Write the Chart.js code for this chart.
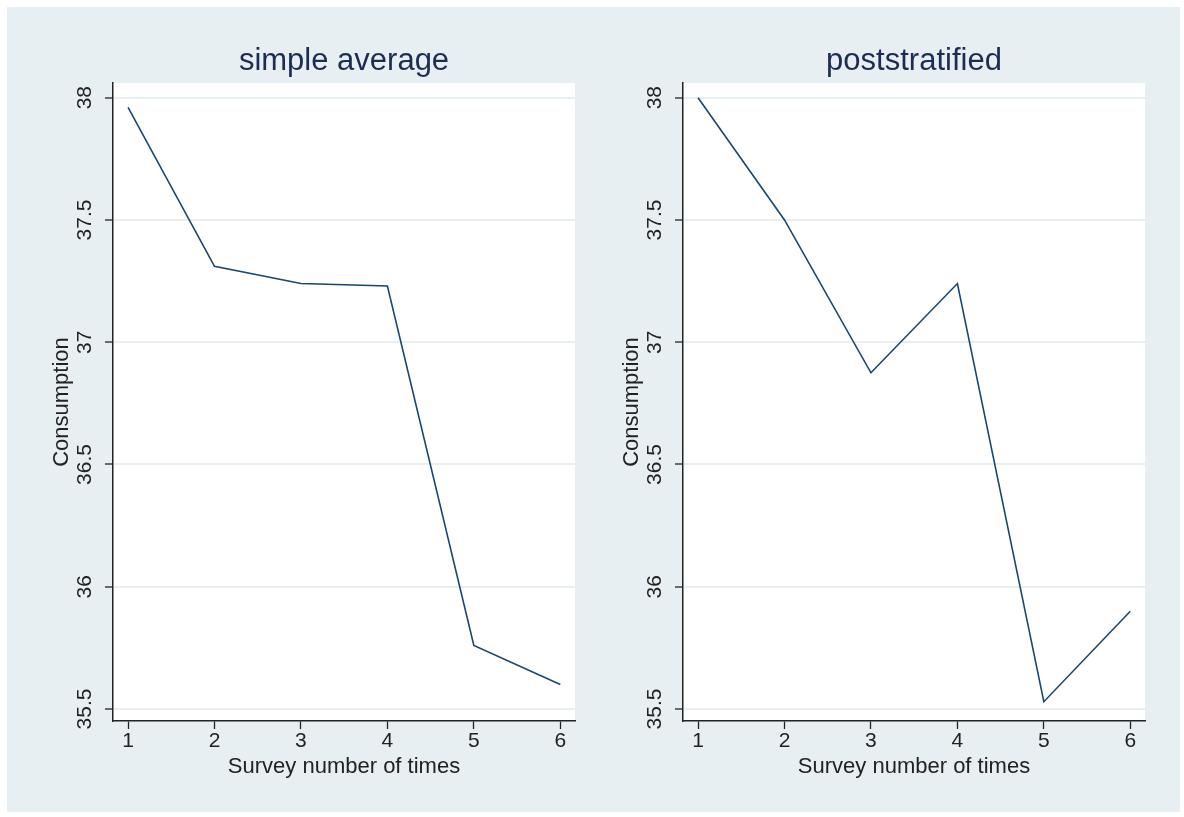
<!DOCTYPE html>
<html>
<head>
<meta charset="utf-8">
<script src="https://cdn.jsdelivr.net/npm/chart.js@4.4.1/dist/chart.umd.min.js"></script>
<style>
  body { margin: 0; background: #fff; width: 1184px; height: 817px; position: relative; overflow: hidden; }
  #bg { position: absolute; left: 7px; top: 7px; width: 1173px; height: 805px; background: #e8eff2; }
  canvas { position: absolute; top: 7px; }
  #leftChart { left: 7px; }
  #rightChart { left: 577px; }
</style>
</head>
<body>
<div id="bg"></div>
<canvas id="leftChart" width="585" height="805"></canvas>
<canvas id="rightChart" width="585" height="805"></canvas>
<script>
// ===== data =====
const surveys = [1, 2, 3, 4, 5, 6];
const simpleAverage = [37.96, 37.31, 37.24, 37.23, 35.76, 35.60];
const poststratified = [38.00, 37.50, 36.875, 37.24, 35.53, 35.90];
const yTicks = [35.5, 36, 36.5, 37, 37.5, 38];
const yTickLabels = ['35.5', '36', '36.5', '37', '37.5', '38'];
const xTicks = [1, 2, 3, 4, 5, 6];

const FONT = "'Liberation Sans', Arial, sans-serif";
const LINE_COLOR = '#1a476f';
const AXIS_COLOR = '#222';
const GRID_COLOR = '#e8eff2';

// white plot region
const plotBg = {
    id: 'plotBg',
    beforeDraw(chart) {
        const { ctx, chartArea: a } = chart;
        ctx.save();
        ctx.fillStyle = '#fff';
        ctx.fillRect(a.left, a.top, a.right - a.left, a.bottom - a.top);
        ctx.restore();
    }
};

// rotated y tick labels (Stata style)
const rotatedYLabels = {
    id: 'rotatedYLabels',
    afterDraw(chart) {
        const { ctx } = chart;
        const scale = chart.scales.y;
        ctx.save();
        ctx.fillStyle = AXIS_COLOR;
        ctx.font = '21px ' + FONT;
        ctx.textAlign = 'center';
        ctx.textBaseline = 'middle';
        yTicks.forEach((v, i) => {
            const y = scale.getPixelForValue(v);
            ctx.save();
            ctx.translate(scale.right - 28, y);
            ctx.rotate(-Math.PI / 2);
            ctx.fillText(yTickLabels[i], 0, 0);
            ctx.restore();
        });
        ctx.restore();
    }
};

function makeChart(id, title, values) {
    return new Chart(document.getElementById(id), {
        type: 'line',
        data: {
            datasets: [{
                data: surveys.map((x, i) => ({ x: x, y: values[i] })),
                borderColor: LINE_COLOR,
                borderWidth: 1.6,
                pointRadius: 0,
                tension: 0,
                fill: false
            }]
        },
        options: {
            responsive: false,
            animation: false,
            devicePixelRatio: 1,
            layout: { padding: { left: 0, right: 17, top: 0, bottom: 31.8 } },
            plugins: {
                legend: { display: false },
                tooltip: { enabled: false },
                title: {
                    display: true,
                    text: title,
                    fullSize: false,
                    color: '#1c2d52',
                    font: { family: FONT, size: 31, weight: 'normal', lineHeight: 1.2 },
                    padding: { top: 35.4, bottom: 3.4 }
                }
            },
            scales: {
                x: {
                    type: 'linear',
                    min: 0.826,
                    max: 6.17,
                    afterBuildTicks: s => { s.ticks = xTicks.map(v => ({ value: v })); },
                    afterFit: s => { s.height = 59.2; },
                    grid: {
                        drawOnChartArea: false,
                        drawTicks: true,
                        tickLength: 8,
                        tickColor: AXIS_COLOR,
                        tickWidth: 1.3
                    },
                    border: { color: AXIS_COLOR, width: 1.5 },
                    ticks: {
                        color: AXIS_COLOR,
                        padding: 0,
                        font: { family: FONT, size: 21 },
                        maxRotation: 0,
                        callback: v => String(v)
                    },
                    title: {
                        display: true,
                        text: 'Survey number of times',
                        color: AXIS_COLOR,
                        font: { family: FONT, size: 22 },
                        padding: { top: 0, bottom: 0 }
                    }
                },
                y: {
                    type: 'linear',
                    min: 35.451,
                    max: 38.06,
                    afterBuildTicks: s => { s.ticks = yTicks.map(v => ({ value: v })); },
                    afterFit: s => { s.width = 106; },
                    grid: {
                        color: GRID_COLOR,
                        lineWidth: 2,
                        drawTicks: true,
                        tickLength: 8,
                        tickColor: AXIS_COLOR,
                        tickWidth: 1.3
                    },
                    border: { color: AXIS_COLOR, width: 1.5 },
                    ticks: { display: false },
                    title: {
                        display: true,
                        text: 'Consumption',
                        color: AXIS_COLOR,
                        font: { family: FONT, size: 22 },
                        padding: { top: 41.8, bottom: 0 }
                    }
                }
            }
        },
        plugins: [plotBg, rotatedYLabels]
    });
}

makeChart('leftChart', 'simple average', simpleAverage);
makeChart('rightChart', 'poststratified', poststratified);
</script>
</body>
</html>
